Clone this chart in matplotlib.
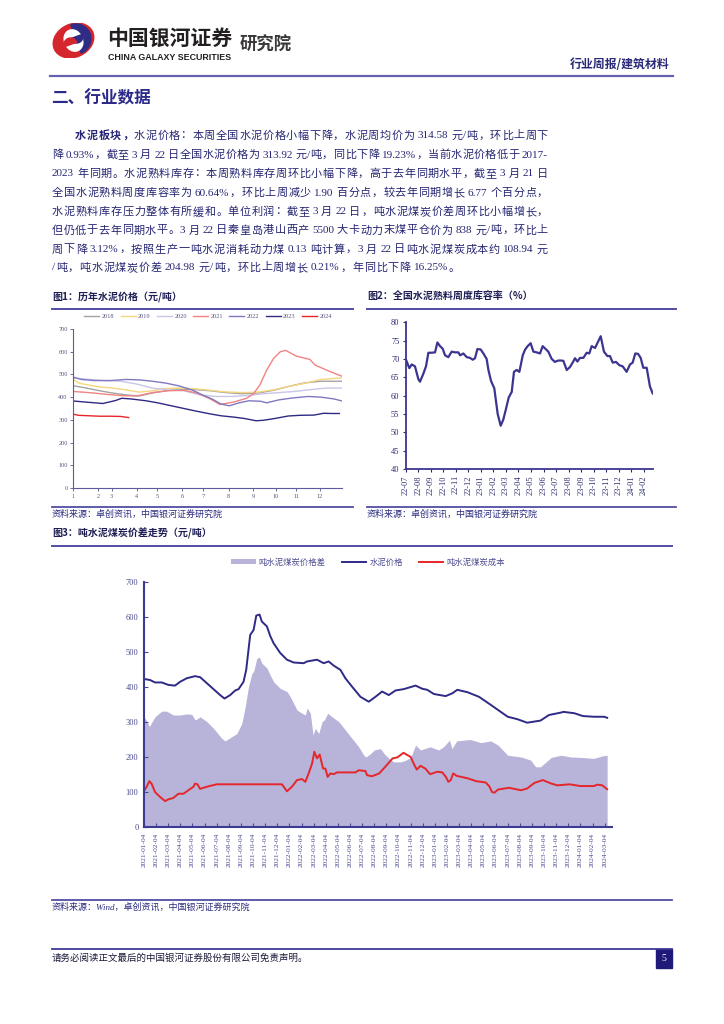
import re
import numpy as np
import pandas as pd
import matplotlib
matplotlib.use("Agg")
import matplotlib.pyplot as plt
from matplotlib.lines import Line2D
from matplotlib.patches import Rectangle, Wedge, Patch, Ellipse

W, H = 724, 1024
CJK = "Noto Sans CJK SC"
SERIF = "Liberation Serif"
MIX = [SERIF, CJK]
TXT = "#262673"
RULE = "#514DA4"

# ---- figure 1: weekly cement price by year (week of year, yuan/t)
years = ["2018", "2019", "2020", "2021", "2022", "2023", "2024"]
colors1 = ["#A3A3A3", "#F6D67E", "#C9C5E8", "#F28383", "#7F79C2", "#2E2A84", "#E8262A"]
wk18 = [1, 3.5, 6, 8.5, 11, 13.5, 16, 18.5, 21, 24, 27, 30, 33, 36, 39, 42, 45, 48, 52]
v18 = [450, 440, 428, 418, 410, 405, 418, 428, 435, 433, 428, 420, 415, 418, 430, 448, 463, 470, 470]
wk19 = [1, 2, 3.5, 6, 8.5, 11, 13.5, 16, 18.5, 21, 24, 27, 30, 33, 36, 39, 42, 45, 48, 52]
v19 = [478, 462, 455, 445, 440, 432, 422, 428, 438, 440, 437, 430, 423, 420, 422, 432, 448, 461, 478, 485]
wk20 = [1, 4, 7, 10, 13, 16, 19, 22, 25, 28, 31, 34, 37, 40, 43, 46, 49, 52]
v20 = [485, 478, 473, 470, 458, 440, 432, 428, 410, 403, 403, 407, 415, 420, 425, 433, 440, 440]
wk21 = [1, 4, 7, 10, 13, 16, 19, 22, 24.5, 27, 28.8, 31.4, 33.9, 35.2, 36.4, 37.7, 39, 40.3,
        41.3, 43.3, 45.9, 46.9, 49.8, 52]
v21 = [425, 420, 413, 407, 405, 420, 428, 430, 418, 392, 368, 378, 395, 415, 453, 519, 570, 600,
       606, 581, 566, 541, 512, 492]
wk22 = [1, 2.5, 5, 8, 11, 13.5, 16, 18.5, 21, 23.5, 25.5, 27.5, 29, 30.6, 32.5, 34.3, 36.5, 37.7,
        40, 42.5, 45.6, 48, 50.5, 52]
v22 = [488, 478, 473, 473, 478, 476, 470, 462, 450, 432, 410, 390, 370, 362, 375, 384, 382, 375,
       388, 396, 403, 400, 392, 383]
wk23 = [1, 3.5, 6.6, 9, 10.2, 12, 14.8, 17, 19.6, 22, 24, 26.8, 29, 31.5, 33.5, 35.7, 37, 39,
        41.8, 44, 46.7, 48.5, 50, 51.5]
v23 = [383, 378, 372, 385, 395, 392, 384, 375, 362, 350, 340, 327, 318, 312, 306, 296, 298, 305,
       317, 320, 321, 329, 328, 328]
wk24 = [1, 2, 4, 6, 8, 10, 11.5]
v24 = [325, 320, 318, 316, 316, 315, 310]
month_ticks1 = [1, 5.7, 8.3, 13, 16.9, 21.6, 25.7, 30.5, 35.1, 39.4, 43.3, 47.8]
month_labels1 = [str(i) for i in range(1, 13)]

# ---- figure 2: clinker inventory ratio (months since 2022-07, %)
m2 = [0.0, 0.29, 0.48, 0.74, 1.01, 1.14, 1.41, 1.62, 1.81, 2.07, 2.34, 2.53, 2.74, 2.95, 3.14,
      3.40, 3.67, 3.94, 4.20, 4.34, 4.60, 4.87, 5.13, 5.35, 5.53, 5.72, 5.98, 6.20, 6.46, 6.60,
      6.81, 7.07, 7.34, 7.58, 7.79, 8.01, 8.22, 8.46, 8.64, 8.86, 9.07, 9.34, 9.52, 9.73, 9.97,
      10.19, 10.45, 10.72, 10.93, 11.14, 11.38, 11.65, 11.91, 12.10, 12.31, 12.58, 12.85, 13.11,
      13.32, 13.51, 13.70, 13.91, 14.18, 14.44, 14.65, 14.84, 15.11, 15.32, 15.56, 15.82, 16.09,
      16.30, 16.52, 16.78, 17.05, 17.31, 17.63, 17.90, 18.11, 18.32, 18.54, 18.75, 18.96, 19.23,
      19.49, 19.71]
ratio = [70, 67.5, 68.5, 68, 64.5, 63.8, 66, 68, 71.7, 71.7, 71.8, 74.5, 73.5, 72.8, 71,
         70.5, 72, 71.8, 71.8, 71, 71.5, 70.5, 70.3, 69.8, 70.2, 72.7, 72.6, 71.5, 70, 67,
         64, 62, 55, 51.8, 53.5, 56.5, 59.5, 61, 66.5, 67, 66.5, 71, 72.5, 73.5, 74.3,
         72, 71.8, 71.5, 73.5, 72.8, 72, 70, 69.2, 69.5, 69.6, 69.5, 67, 67.8,
         69, 70.2, 69.3, 70.3, 70.3, 71.7, 71.5, 73.5, 73, 74.5, 76.2, 72, 70.8,
         70.8, 69, 69.2, 68.3, 68, 66.5, 68.5, 69, 71.5, 71.4, 70.3, 67.6, 67.6,
         62.5, 60.6]
labels2 = pd.date_range("2022-07-01", periods=20, freq="MS").strftime("%y-%m").tolist()

# ---- figure 3: cement price, coal cost, spread (months since 2021-01-04, yuan/t)
m_price = [0, 0.5, 0.91, 1.46, 2.01, 2.56, 2.98, 3.53, 4.21, 4.63, 5.18, 5.73, 6.28, 6.64, 7.11,
           7.52, 7.80, 8.21, 8.43, 8.76, 9.04, 9.26, 9.53, 9.72, 10.14, 10.41, 10.69, 11.24,
           11.79, 12.34, 13.17, 13.45, 14.27, 14.82, 15.23, 15.65, 16.2, 16.61, 17.16, 17.85,
           18.54, 19.09, 19.64, 20.19, 20.74, 21.43, 22.40, 22.95, 23.36, 23.91, 24.88, 25.43,
           25.84, 26.69, 27.63, 28.60, 30.0, 30.8, 31.6, 32.7, 33.4, 34.4, 34.6, 35.5, 36.2,
           37.1, 37.96, 38.2]
price = [423, 420, 413, 413, 406, 404, 415, 425, 431, 428, 411, 394, 377, 367, 377,
         390, 394, 415, 449, 549, 563, 604, 607, 587, 573, 546, 525, 497,
         478, 470, 468, 473, 478, 468, 473, 461, 449, 425, 401, 372,
         358, 372, 387, 377, 390, 394, 404, 395, 392, 380, 374, 382,
         392, 385, 372, 349, 315, 308, 298, 304, 320, 327, 329, 325, 317,
         315, 315, 312]
m_coal = [0, 0.22, 0.44, 0.62, 0.91, 1.32, 1.74, 2.01, 2.42, 2.84, 3.25, 3.66, 4.08, 4.21, 4.41,
          4.63, 5.18, 6.0, 11.38, 11.79, 12.2, 12.62, 13.03, 13.31, 13.58, 13.86, 14.05, 14.27,
          14.49, 14.77, 14.96, 15.15, 15.37, 15.65, 15.92, 17.44, 17.71, 18.26, 18.4, 18.8,
          19.4, 19.9, 20.5, 20.9, 21.4, 22.0, 22.3, 22.5, 22.8, 23.2, 23.6, 24.2, 24.6, 24.9,
          25.1, 25.3, 25.5, 25.8, 26.7, 27.4, 28.2, 28.5, 28.7, 28.9, 29.2, 30.1, 31.1, 31.6,
          32.2, 32.9, 33.6, 34.1, 35.1, 36.0, 37.1, 37.4, 37.8, 38.2]
coal = [103, 115, 131, 124, 100, 86, 74, 79, 83, 95, 95, 105, 115, 124, 122,
        109, 115, 122, 122, 102, 115, 134, 137, 129, 153, 181, 215, 196,
        207, 167, 167, 143, 153, 151, 156, 156, 162, 160, 148, 145,
        153, 172, 196, 199, 212, 200, 177, 164, 175, 167, 151, 158, 156, 143,
        129, 134, 153, 146, 139, 131, 127, 115, 100, 98, 107, 112, 105, 110,
        126, 134, 124, 119, 122, 117, 117, 121, 119, 108]
m_spread = [0, 0.17, 0.44, 0.91, 1.46, 1.87, 2.42, 2.98, 3.53, 3.94, 4.21, 4.35, 4.63, 5.18,
            5.73, 6.42, 6.69, 7.25, 7.66, 8.07, 8.35, 8.62, 8.9, 9.04, 9.31, 9.53, 9.72, 10.14,
            10.41, 10.69, 11.24, 11.79, 12.07, 12.62, 13.03, 13.31, 13.45, 13.72, 13.94, 14.13,
            14.41, 14.69, 14.88, 15.15, 15.51, 16.06, 16.61, 17.16, 17.71, 18.13, 18.3, 18.7,
            19.0, 19.5, 19.8, 20.2, 20.6, 21.2, 21.6, 22.0, 22.4, 22.8, 23.6, 24.3, 24.7, 25.2,
            25.4, 25.8, 26.9, 27.8, 28.6, 29.2, 30.0, 31.1, 31.9, 32.3, 32.7, 33.6, 34.4, 35.2,
            36.0, 37.1, 37.8, 38.2]
spread = [315, 306, 287, 315, 331, 331, 320, 320, 323, 322, 306, 308, 315, 301,
          282, 253, 246, 258, 267, 296, 344, 401, 439, 444, 482, 485, 468, 454,
          434, 415, 396, 387, 372, 334, 325, 320, 340, 325, 263, 282,
          267, 301, 306, 325, 315, 301, 277, 253, 229, 205, 200, 210,
          220, 224, 210, 196, 186, 186, 191, 199, 234, 220, 229, 220, 229, 248,
          224, 246, 250, 241, 246, 234, 205, 200, 191, 172, 172, 199, 205, 200,
          199, 196, 203, 205]
labels3 = [d.strftime("%Y-%m-%d") for d in
           pd.date_range("2021-01-01", periods=39, freq="MS") + pd.Timedelta(days=3)]

body = [
    "水泥板块，水泥价格：本周全国水泥价格小幅下降，水泥周均价为 314.58 元/吨，环比上周下",
    "降 0.93%，截至 3 月 22 日全国水泥价格为 313.92 元/吨，同比下降 19.23%，当前水泥价格低于 2017-",
    "2023 年同期。水泥熟料库存：本周熟料库存周环比小幅下降，高于去年同期水平，截至 3 月 21 日",
    "全国水泥熟料周度库容率为 60.64%，环比上周减少 1.90 百分点，较去年同期增长 6.77 个百分点，",
    "水泥熟料库存压力整体有所缓和。单位利润：截至 3 月 22 日，吨水泥煤炭价差周环比小幅增长，",
    "但仍低于去年同期水平。3 月 22 日秦皇岛港山西产 5500 大卡动力末煤平仓价为 838 元/吨，环比上",
    "周下降 3.12%，按照生产一吨水泥消耗动力煤 0.13 吨计算，3 月 22 日吨水泥煤炭成本约 108.94 元",
    "/吨，吨水泥煤炭价差 204.98 元/吨，环比上周增长 0.21%，年同比下降 16.25%。",
]

fig = plt.figure(figsize=(W / 100, H / 100), dpi=100)
renderer = fig.canvas.get_renderer()


def fx(x):
    return x / W


def fy(y):
    return 1 - y / H


def rect(l, t, r, b):
    return [l / W, 1 - b / H, (r - l) / W, (b - t) / H]


def hline(x0, x1, y, color=RULE, lw=1.4):
    fig.add_artist(Line2D([fx(x0), fx(x1)], [fy(y), fy(y)], color=color, lw=lw,
                          transform=fig.transFigure))


def put(x, y, s, size, **kw):
    kw.setdefault("va", "center")
    return fig.text(fx(x), fy(y), s, fontsize=size, **kw)


def body_line(s, y, x0, x1, n_bold=0, stretch=True):
    toks, spaced, pending = [], [], False
    for p in re.findall(r" |[A-Za-z0-9.%\-/]+|[^ A-Za-z0-9.%\-/]", s):
        if p == " ":
            pending = True
            continue
        toks.append(p)
        spaced.append(pending)
        pending = False
    arts = [put(0, y, t, 8, family=MIX, color=TXT,
                weight="bold" if i < n_bold else "normal") for i, t in enumerate(toks)]
    widths = [a.get_window_extent(renderer).width for a in arts]
    sp = 2.5
    if stretch:
        gap = (x1 - x0 - sum(widths) - sp * sum(spaced[1:])) / (len(toks) - 1)
    else:
        gap = 0.7
    x = x0
    for i, (a, w) in enumerate(zip(arts, widths)):
        if i > 0:
            x += gap + (sp if spaced[i] else 0)
        a.set_x(fx(x))
        x += w


# ---- header logo: red and navy halves of a tilted disc split by a white S
logo = fig.add_axes(rect(51, 23, 96, 58))
logo.set_xlim(0, 45)
logo.set_ylim(0, 35)
logo.set_aspect("equal")
logo.axis("off")
logo.add_patch(Ellipse((22.5, 17.5), 42, 33, angle=25, color="#D5262D"))
logo.add_patch(Wedge((25, 19), 15, -70, 110, color="#2F2C86"))
logo.add_patch(Ellipse((22.5, 17.5), 18, 22, angle=25, color="white"))
logo.add_patch(Wedge((25.5, 21.5), 6.5, 200, 20, color="#2F2C86"))
logo.add_patch(Wedge((19.5, 13.5), 6.5, 20, 200, color="#D5262D"))

put(107, 38, "中国银河证券", 15, family=CJK, weight="bold", color="#231F20")
put(108, 57, "CHINA GALAXY SECURITIES", 6.4, family="Liberation Sans", weight="bold",
    color="#231F20")
put(240, 45, "研究院", 12.5, family=CJK, weight="bold", color="#3A3838")
put(669, 64, "行业周报/建筑材料", 8.6, family=CJK, weight="bold", color="#2A2A78", ha="right")
hline(50, 673, 76, color="#6662B0", lw=1.6)
put(51, 98, "二、行业数据", 12, family=CJK, weight="bold", color="#2B2A8A")

ys = [136, 155, 174, 193, 212, 230.5, 249.5, 268]
for i, (s, y) in enumerate(zip(body, ys)):
    body_line(s, y, 75 if i == 0 else 52, 548, n_bold=5 if i == 0 else 0,
              stretch=i < len(body) - 1)

# ---- figure 1
put(52, 297, "图1：历年水泥价格（元/吨）", 7.2, family=CJK, weight="bold", color="#1E1E55")
hline(52, 353, 309)
ax1 = fig.add_axes(rect(73.3, 329, 342, 488))
series1 = [(wk18, v18), (wk19, v19), (wk20, v20), (wk21, v21), (wk22, v22), (wk23, v23),
           (wk24, v24)]
for (wk, v), yr, c in zip(series1, years, colors1):
    ax1.plot(wk, v, color=c, lw=1.0, label=yr)
ax1.set_xlim(1, 52)
ax1.set_ylim(0, 700)
ax1.set_yticks(range(0, 701, 100))
ax1.set_xticks(month_ticks1)
ax1.set_xticklabels(month_labels1)
for s in ["top", "right"]:
    ax1.spines[s].set_visible(False)
for s in ["left", "bottom"]:
    ax1.spines[s].set_color("#5E5A9E")
    ax1.spines[s].set_linewidth(0.8)
ax1.tick_params(labelsize=4.5, colors="#55557F", length=2, width=0.6, pad=2)
for lab in ax1.get_xticklabels() + ax1.get_yticklabels():
    lab.set_family(SERIF)
h, l = ax1.get_legend_handles_labels()
fig.legend(h, l, loc="center", bbox_to_anchor=(fx(208), fy(316)), ncol=7, frameon=False,
           prop={"family": SERIF, "size": 4.5}, handlelength=2.4, handletextpad=0.4,
           columnspacing=1.0, labelcolor="#55557F")
hline(52, 353, 507, lw=1.3)
put(52, 514, "资料来源：卓创资讯，中国银河证券研究院", 6.5, family=CJK, color="#2B2B80",
    style="italic")

# ---- figure 2
put(367, 297, "图2：全国水泥熟料周度库容率（%）", 7.2, family=CJK, weight="bold", color="#1E1E55")
hline(367, 676, 309)
ax2 = fig.add_axes(rect(405.7, 322.3, 652.7, 469))
ax2.plot(m2, ratio, color="#3B3590", lw=1.6)
ax2.set_xlim(0, 19.71)
ax2.set_ylim(40, 80)
ax2.set_yticks(range(40, 81, 5))
ax2.set_xticks(range(20))
ax2.set_xticklabels(labels2, rotation=90)
for s in ["top", "right"]:
    ax2.spines[s].set_visible(False)
for s in ["left", "bottom"]:
    ax2.spines[s].set_color("#3B3590")
    ax2.spines[s].set_linewidth(1.3)
ax2.tick_params(labelsize=6, colors="#2B2B6E", length=2.5, width=0.8, pad=2)
for lab in ax2.get_xticklabels() + ax2.get_yticklabels():
    lab.set_family(SERIF)
hline(367, 676, 507, lw=1.3)
put(367, 514, "资料来源：卓创资讯，中国银河证券研究院", 6.5, family=CJK, color="#2B2B80",
    style="italic")

# ---- figure 3
put(52, 533, "图3：吨水泥煤炭价差走势（元/吨）", 7.2, family=CJK, weight="bold", color="#1E1E55")
hline(52, 672, 546)
ax3 = fig.add_axes(rect(144, 582, 612, 827))
ax3.fill_between(m_spread, spread, color="#B7B3D9", lw=0, label="吨水泥煤炭价格差")
ax3.plot(m_price, price, color="#2E2A85", lw=1.4, label="水泥价格")
ax3.plot(m_coal, coal, color="#E5262B", lw=1.4, label="吨水泥煤炭成本")
ax3.set_xlim(0, 38.6)
ax3.set_ylim(0, 700)
ax3.set_yticks(range(0, 701, 100))
ax3.set_xticks(range(len(labels3)))
ax3.set_xticklabels(labels3, rotation=90)
for s in ["top", "right"]:
    ax3.spines[s].set_visible(False)
for s in ["left", "bottom"]:
    ax3.spines[s].set_color("#3C3A92")
    ax3.spines[s].set_linewidth(1.5)
ax3.tick_params(axis="x", labelsize=5.3, colors="#4B4B8F", direction="in", length=3,
                width=0.8, pad=4)
ax3.tick_params(axis="y", labelsize=6, colors="#4B4B8F", direction="in", length=3,
                width=0.8, pad=4)
for lab in ax3.get_xticklabels() + ax3.get_yticklabels():
    lab.set_family(SERIF)
handles = [Patch(color="#B7B3D9", lw=0), Line2D([], [], color="#2E2A85", lw=1.4),
           Line2D([], [], color="#E5262B", lw=1.4)]
fig.legend(handles, ["吨水泥煤炭价格差", "水泥价格", "吨水泥煤炭成本"], loc="center",
           bbox_to_anchor=(fx(368), fy(562)), ncol=3, frameon=False,
           prop={"family": CJK, "size": 6}, handlelength=2.9, handleheight=0.5,
           handletextpad=0.4, columnspacing=1.9, labelcolor="#4B4B8F")
hline(52, 672, 900, lw=1.3)
put(52, 907, "资料来源：Wind，卓创资讯，中国银河证券研究院", 6.5, family=MIX, color="#2B2B80",
    style="italic")

# ---- footer
hline(52, 672, 949, color="#3E3A96", lw=1.3)
put(52, 958, "请务必阅读正文最后的中国银河证券股份有限公司免责声明。", 6.8, family=CJK,
    color="#1A1A3A")
fig.add_artist(Rectangle((fx(656), fy(968)), 16 / W, 19 / H, color="#1F1A7A",
                         transform=fig.transFigure))
put(664, 958.5, "5", 7, family=SERIF, color="white", ha="center")

fig.savefig("out.png", dpi=100)
